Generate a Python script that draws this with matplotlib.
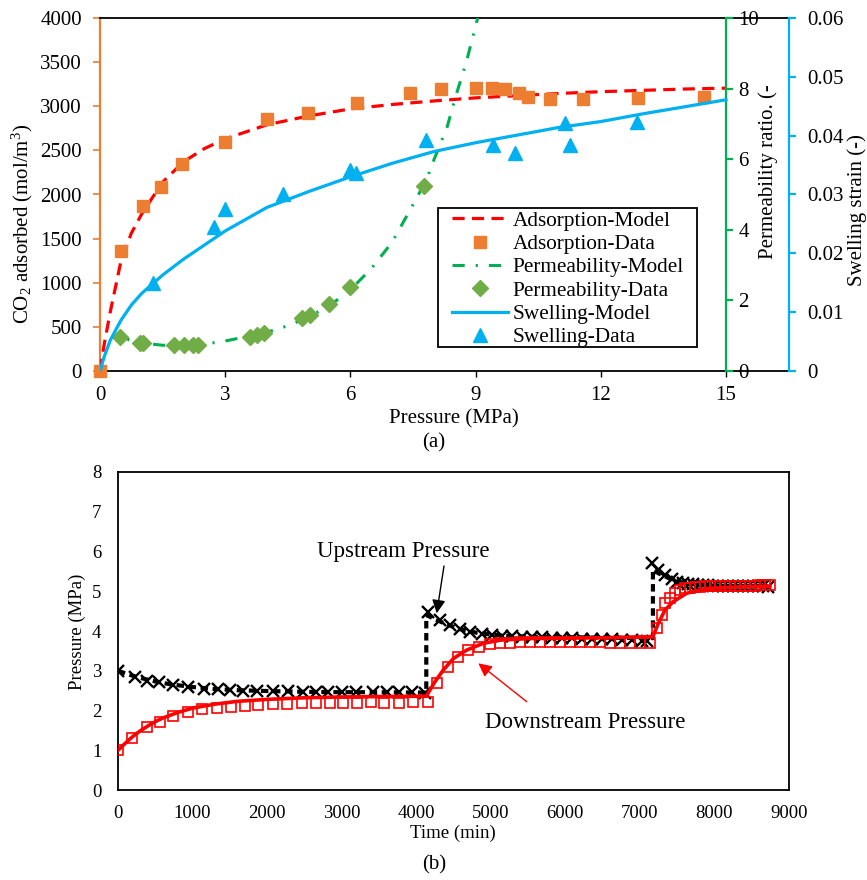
import matplotlib
matplotlib.use("Agg")
import matplotlib.pyplot as plt
from matplotlib.patches import Rectangle

plt.rcParams['font.family'] = ['Liberation Serif', 'DejaVu Serif']
plt.rcParams['mathtext.fontset'] = 'custom'
plt.rcParams['mathtext.rm'] = 'Liberation Serif'

# ---------------- (a) adsorption / permeability / swelling vs pressure ----------------
ads_model_p = [0, 0.1, 0.25, 0.5, 0.75, 1.0, 1.5, 2.0, 2.5, 3, 4, 5, 6, 7, 8, 9, 10, 11, 12, 13, 14, 15]
ads_model_q = [0, 300, 680, 1240, 1560, 1780, 2140, 2370, 2520, 2630, 2790, 2890, 2970, 3020, 3060,
               3095, 3120, 3145, 3165, 3180, 3195, 3205]

ads_data_p = [0, 0.5, 1.02, 1.45, 1.97, 3.0, 4.0, 4.98, 6.16, 7.44, 8.18, 9.01, 9.40, 9.71, 10.05,
              10.26, 10.78, 11.57, 12.90, 14.48]
ads_data_q = [0, 1360, 1870, 2080, 2340, 2600, 2850, 2920, 3040, 3150, 3200, 3210, 3210, 3190, 3150,
              3110, 3080, 3080, 3090, 3100]

perm_model_p = [0.45, 0.7, 1.0, 1.5, 2.0, 2.5, 3.0, 3.5, 4.0, 4.5, 5.0, 5.5, 6.0, 6.5, 7.0, 7.42,
                7.82, 8.0, 8.32, 8.52, 8.78, 9.05]
perm_model_k = [1.05, 0.88, 0.79, 0.73, 0.71, 0.76, 0.85, 0.97, 1.10, 1.28, 1.53, 1.85, 2.30, 2.90,
                3.65, 4.54, 5.41, 5.98, 6.92, 7.77, 8.76, 10.0]

perm_data_p = [0.48, 0.95, 1.02, 1.78, 2.02, 2.22, 2.36, 3.6, 3.76, 3.92, 4.84, 5.04, 5.48, 6.0, 7.76]
perm_data_k = [0.97, 0.80, 0.80, 0.74, 0.74, 0.74, 0.74, 0.97, 1.02, 1.07, 1.49, 1.59, 1.90, 2.37, 5.24]

swell_model_p = [0, 0.1, 0.25, 0.5, 0.75, 1, 1.5, 2, 3, 4, 5, 6, 7, 8, 9, 10, 11, 12, 13, 14, 15]
swell_model_e = [0, 0.0024, 0.0053, 0.0086, 0.0112, 0.0132, 0.0163, 0.0190, 0.0238, 0.0278, 0.0305,
                 0.0330, 0.0353, 0.0373, 0.0388, 0.0401, 0.0414, 0.0424, 0.0437, 0.0449, 0.0461]

swell_data_p = [1.28, 2.72, 3.0, 4.38, 6.0, 6.14, 7.8, 9.42, 9.95, 11.14, 11.27, 12.86]
swell_data_e = [0.0150, 0.0244, 0.0275, 0.0300, 0.0342, 0.0336, 0.0393, 0.0384, 0.0370, 0.0421,
                0.0384, 0.0424]

press_ticks = [0, 3, 6, 9, 12, 15]
ads_ticks = [0, 500, 1000, 1500, 2000, 2500, 3000, 3500, 4000]
perm_ticks = [0, 2, 4, 6, 8, 10]
swell_ticks = [0, 0.01, 0.02, 0.03, 0.04, 0.05, 0.06]
swell_tick_labels = ['0', '0.01', '0.02', '0.03', '0.04', '0.05', '0.06']

# ---------------- (b) pressure history ----------------
up_t = [4, 227, 384, 554, 742, 943, 1153, 1345, 1502, 1681, 1869, 2083, 2285, 2486, 2656, 2822, 3001,
        3194, 3417, 3605, 3774, 3949, 4119,
        4162, 4319, 4453, 4587, 4721, 4878, 5012, 5146, 5280, 5414, 5548, 5682, 5816, 5950, 6084, 6218,
        6352, 6486, 6620, 6754, 6888, 7022, 7100,
        7158, 7247, 7336, 7426, 7502, 7582, 7650, 7717, 7784, 7851, 7918, 7985, 8052, 8119, 8186, 8253,
        8320, 8387, 8454, 8521, 8588, 8655, 8722]
up_p = [3.00, 2.85, 2.74, 2.71, 2.64, 2.58, 2.55, 2.53, 2.52, 2.50, 2.50, 2.50, 2.50, 2.47, 2.47, 2.47,
        2.46, 2.46, 2.46, 2.46, 2.46, 2.46, 2.45,
        4.49, 4.28, 4.15, 4.05, 3.98, 3.92, 3.89, 3.88, 3.87, 3.86, 3.85, 3.84, 3.83, 3.83, 3.82, 3.81,
        3.81, 3.80, 3.79, 3.78, 3.77, 3.76, 3.74,
        5.70, 5.53, 5.41, 5.32, 5.24, 5.20, 5.18, 5.17, 5.16, 5.15, 5.15, 5.14, 5.14, 5.14, 5.13, 5.13,
        5.13, 5.13, 5.13, 5.12, 5.12, 5.12, 5.11]

down_t = [4, 183, 384, 563, 742, 943, 1131, 1325, 1513, 1704, 1883, 2076, 2264, 2465, 2656, 2844, 3022,
          3210, 3394, 3573, 3774, 3962, 4154,
          4274, 4430, 4564, 4698, 4846, 4989, 5123, 5257, 5391, 5525, 5659, 5793, 5927, 6061, 6195, 6329,
          6463, 6597, 6731, 6865, 6999, 7133,
          7225, 7292, 7336, 7403, 7470, 7537, 7604, 7671, 7738, 7805, 7872, 7939, 8006, 8073, 8140, 8207,
          8274, 8341, 8408, 8475, 8542, 8609, 8676, 8745]
down_p = [1.00, 1.32, 1.59, 1.72, 1.86, 1.97, 2.03, 2.06, 2.10, 2.11, 2.14, 2.16, 2.16, 2.18, 2.18, 2.19,
          2.19, 2.20, 2.22, 2.20, 2.20, 2.21, 2.21,
          2.68, 3.10, 3.35, 3.52, 3.60, 3.67, 3.70, 3.71, 3.72, 3.73, 3.73, 3.73, 3.73, 3.73, 3.73, 3.72,
          3.72, 3.71, 3.70, 3.70, 3.70, 3.70,
          4.07, 4.40, 4.70, 4.82, 4.95, 5.03, 5.07, 5.09, 5.10, 5.11, 5.12, 5.12, 5.13, 5.13, 5.13, 5.14,
          5.14, 5.14, 5.14, 5.14, 5.14, 5.15, 5.15, 5.15]

up_model_t = [0, 150, 300, 500, 700, 1000, 1300, 1600, 2000, 2500, 3000, 3500, 4135, 4135, 4250, 4400,
              4600, 4800, 5000, 5300, 5700, 6200, 6700, 7175, 7175, 7250, 7400, 7550, 7700, 7900, 8200, 8745]
up_model_p = [3.0, 2.9, 2.82, 2.73, 2.66, 2.59, 2.54, 2.51, 2.49, 2.47, 2.46, 2.46, 2.45, 4.40, 4.30,
              4.17, 4.04, 3.96, 3.91, 3.87, 3.85, 3.84, 3.83, 3.82, 5.55, 5.45, 5.32, 5.23, 5.18, 5.15,
              5.13, 5.12]

down_model_t = [0, 100, 200, 300, 400, 500, 600, 800, 1000, 1300, 1600, 2000, 2500, 3000, 3500, 4135,
                4250, 4364, 4500, 4677, 4900, 5124, 5500, 6500, 7175, 7247, 7337, 7449, 7628, 7896,
                8343, 8745]
down_model_p = [1.0, 1.18, 1.35, 1.49, 1.61, 1.72, 1.81, 1.95, 2.06, 2.16, 2.23, 2.28, 2.32, 2.34, 2.35,
                2.36, 2.72, 3.02, 3.31, 3.52, 3.69, 3.77, 3.81, 3.83, 3.86, 4.19, 4.53, 4.74, 4.95, 5.07,
                5.11, 5.13]

time_ticks = [0, 1000, 2000, 3000, 4000, 5000, 6000, 7000, 8000, 9000]
press_b_ticks = [0, 1, 2, 3, 4, 5, 6, 7, 8]

# colours
C_ORANGE = '#ED7D31'
C_RED = '#FF0000'
C_GREEN_LINE = '#00B050'
C_GREEN_MARK = '#70AD47'
C_BLUE = '#00B0F0'

W, H = 867, 880
fig = plt.figure(figsize=(W / 100, H / 100), dpi=100)


def fx(px):
    return px / W


def fy(py):
    return 1 - py / H


FS_A = 15
FS_B = 13.5

# ---------- panel (a) ----------
ax1 = fig.add_axes([fx(100), fy(371), fx(689), 353 / H])
x_max = (789 - 100) / ((726 - 100) / 15)
ax1.set_xlim(0, x_max)
ax1.set_ylim(0, 4000)
ax1.plot(ads_model_p, ads_model_q, color=C_RED, lw=2.3, dashes=(3.8, 2.3), zorder=3,
         label='Adsorption-Model')
ax1.plot(ads_data_p, ads_data_q, 's', color=C_ORANGE, ms=9, mec=C_ORANGE, zorder=4,
         label='Adsorption-Data', clip_on=False)
ax1.set_xticks(press_ticks)
ax1.set_yticks(ads_ticks)
ax1.tick_params(axis='x', direction='out', length=4, width=1, pad=7, labelsize=FS_A, colors='black')
ax1.tick_params(axis='y', direction='out', length=5, width=1.2, pad=8, labelsize=FS_A,
                color=C_ORANGE, labelcolor='black')
ax1.spines['left'].set_color(C_ORANGE)
ax1.spines['left'].set_linewidth(1.6)
ax1.spines['right'].set_visible(False)
ax1.spines['top'].set_linewidth(1.3)
ax1.spines['bottom'].set_linewidth(1.3)

ax2 = ax1.twinx()
ax2.set_ylim(0, 10)
ax2.plot(perm_model_p, perm_model_k, color=C_GREEN_LINE, lw=2.2, dashes=(4, 3.6, 0.7, 3.6),
         label='Permeability-Model')
ax2.plot(perm_data_p, perm_data_k, 'D', color=C_GREEN_MARK, ms=8, mec=C_GREEN_MARK,
         label='Permeability-Data')
for s in ['left', 'top', 'bottom']:
    ax2.spines[s].set_visible(False)
ax2.spines['right'].set_position(('data', 15))
ax2.spines['right'].set_color(C_GREEN_LINE)
ax2.spines['right'].set_linewidth(1.6)
ax2.set_yticks(perm_ticks)
ax2.tick_params(axis='y', direction='out', length=5, width=1.6, pad=4, labelsize=FS_A,
                color=C_GREEN_LINE, labelcolor='black')

ax3 = ax1.twinx()
ax3.set_ylim(0, 0.06)
ax3.plot(swell_model_p, swell_model_e, color=C_BLUE, lw=2.3, label='Swelling-Model')
ax3.plot(swell_data_p, swell_data_e, '^', color=C_BLUE, ms=10, mec=C_BLUE, label='Swelling-Data')
for s in ['left', 'top', 'bottom']:
    ax3.spines[s].set_visible(False)
ax3.spines['right'].set_color(C_BLUE)
ax3.spines['right'].set_linewidth(1.6)
ax3.set_yticks(swell_ticks)
ax3.set_yticklabels(swell_tick_labels)
ax3.tick_params(axis='y', direction='out', length=5, width=1.6, pad=8, labelsize=FS_A,
                color=C_BLUE, labelcolor='black')

# legend: framed box drawn separately, entries placed inside it
box = Rectangle((fx(438), fy(347)), fx(697 - 438), (347 - 208) / H, transform=fig.transFigure,
                facecolor='white', edgecolor='black', lw=1.3, zorder=10)
fig.add_artist(box)
handles = (ax1.get_legend_handles_labels()[0] + ax2.get_legend_handles_labels()[0]
           + ax3.get_legend_handles_labels()[0])
labels = [h.get_label() for h in handles]
leg = fig.legend(handles, labels, loc='upper left', bbox_to_anchor=(fx(452), fy(211)),
                 bbox_transform=fig.transFigure, fontsize=15.3, frameon=False,
                 borderpad=0, labelspacing=0.16, handlelength=2.64, handletextpad=0.22,
                 borderaxespad=0)
leg.set_zorder(11)

fig.text(fx(454), fy(419), 'Pressure (MPa)', ha='center', va='center', fontsize=FS_A)
fig.text(fx(22), fy(224), r'CO$\mathregular{_2}$ adsorbed (mol/m$\mathregular{^3}$)', ha='center',
         va='center', rotation=90, fontsize=FS_A)
fig.text(fx(768), fy(172), 'Permeability ratio. (-', ha='center', va='center', rotation=90,
         fontsize=FS_A)
fig.text(fx(857), fy(210), 'Swelling strain (-)', ha='center', va='center', rotation=90,
         fontsize=FS_A)
fig.text(fx(434), fy(443), '(a)', ha='center', va='center', fontsize=FS_A)

# ---------- panel (b) ----------
ax4 = fig.add_axes([fx(118), fy(790), fx(671), 318 / H])
ax4.set_xlim(0, 9000)
ax4.set_ylim(0, 8)
ax4.plot(up_model_t, up_model_p, color='black', lw=3, dashes=(1.8, 1.1), zorder=3)
ax4.plot(up_t, up_p, 'x', color='black', ms=8.5, mew=1.7, zorder=4)
ax4.plot(down_model_t, down_model_p, color=C_RED, lw=2.6, zorder=5)
ax4.plot(down_t, down_p, 's', mfc='none', mec=C_RED, ms=7.5, mew=1.2, zorder=6)
ax4.set_xticks(time_ticks)
ax4.set_yticks(press_b_ticks)
ax4.tick_params(axis='both', length=0, labelsize=FS_B)
ax4.tick_params(axis='x', pad=11)
ax4.tick_params(axis='y', pad=12)
for s in ax4.spines.values():
    s.set_linewidth(1.3)


def to_data(px, py):
    t = (px - 118) / (671 / 9000)
    p = (790 - py) / (318 / 8)
    return t, p


ax4.text(*to_data(403, 552), 'Upstream Pressure', ha='center', va='center', fontsize=16.5)
ax4.annotate('', xy=to_data(436.7, 613.3), xytext=to_data(444, 566),
             arrowprops=dict(arrowstyle='-|>', color='black', lw=1, mutation_scale=20,
                             shrinkA=0, shrinkB=0), zorder=7)
ax4.text(*to_data(585, 723), 'Downstream Pressure', ha='center', va='center', fontsize=16.5)
ax4.annotate('', xy=to_data(478.3, 663.3), xytext=to_data(526.7, 701.7),
             arrowprops=dict(arrowstyle='-|>', color=C_RED, lw=1, mutation_scale=20,
                             shrinkA=0, shrinkB=0), zorder=7)

fig.text(fx(453), fy(833), 'Time (min)', ha='center', va='center', fontsize=FS_B)
fig.text(fx(77), fy(632), 'Pressure (MPa)', ha='center', va='center', rotation=90, fontsize=FS_B)
fig.text(fx(434), fy(865), '(b)', ha='center', va='center', fontsize=FS_A)

fig.savefig('out.png', dpi=100)
